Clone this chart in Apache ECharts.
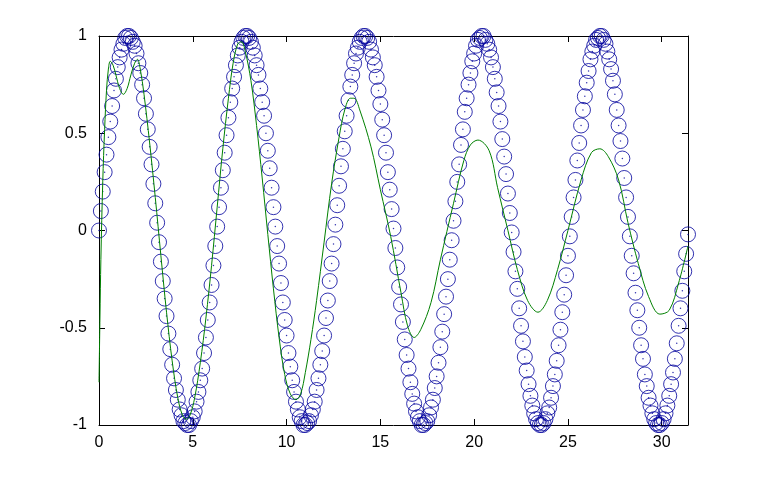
<!DOCTYPE html>
<html>
<head>
<meta charset="utf-8">
<script src="https://cdn.jsdelivr.net/npm/echarts@6/dist/echarts.min.js"></script>
<style>
html,body{margin:0;padding:0;background:#ffffff;}
#chart{width:760px;height:477px;}
</style>
</head>
<body>
<div id="chart"></div>
<script>
// Sample grid of the circle markers (x = start + index * step)
const circleStartX = 0;
const circleStepX = 0.1;
// Circle marker values
const circleY = [
  0,0.10,0.20,0.30,0.39,0.48,0.56,0.64,0.72,0.78,
  0.84,0.89,0.93,0.96,0.99,1.00,1.00,0.99,0.97,0.95,
  0.91,0.86,0.81,0.75,0.68,0.60,0.52,0.43,0.34,0.24,
  0.14,0.04,-0.06,-0.16,-0.26,-0.35,-0.44,-0.53,-0.61,-0.69,
  -0.76,-0.82,-0.87,-0.92,-0.95,-0.98,-0.99,-1.00,-1.00,-0.98,
  -0.96,-0.93,-0.88,-0.83,-0.77,-0.71,-0.63,-0.55,-0.46,-0.37,
  -0.28,-0.18,-0.08,
  0.02,0.12,0.22,0.31,0.40,0.49,0.58,0.66,0.73,0.79,
  0.85,0.90,0.94,0.97,0.99,1.00,1.00,0.99,0.97,0.94,
  0.90,0.85,0.80,0.73,0.66,0.59,0.50,0.41,0.32,0.22,
  0.12,0.02,-0.08,-0.17,-0.27,-0.37,-0.46,-0.54,-0.63,-0.70,
  -0.77,-0.83,-0.88,-0.92,-0.96,-0.98,-1.00,-1.00,-0.99,-0.98,
  -0.95,-0.92,-0.88,-0.82,-0.76,-0.69,-0.62,-0.54,-0.45,-0.36,
  -0.26,-0.17,-0.07,
  0.03,0.13,0.23,0.33,0.42,0.51,0.59,0.67,0.74,0.80,
  0.86,0.91,0.94,0.97,0.99,1.00,1.00,0.99,0.97,0.93,
  0.89,0.85,0.79,0.72,0.65,0.57,0.49,0.40,0.30,0.21,
  0.11,0.01,-0.09,-0.19,-0.29,-0.38,-0.47,-0.56,-0.64,-0.71,
  -0.78,-0.84,-0.89,-0.93,-0.96,-0.98,-1.00,-1.00,-0.99,-0.98,
  -0.95,-0.91,-0.87,-0.81,-0.75,-0.68,-0.60,-0.52,-0.43,-0.34,
  -0.25,-0.15,-0.05,
  0.05,0.15,0.25,0.34,0.44,0.52,0.61,0.68,0.75,0.81,
  0.87,0.91,0.95,0.98,0.99,1.00,1.00,0.98,0.96,0.93,
  0.89,0.84,0.78,0.71,0.64,0.56,0.47,0.38,0.29,0.19,
  0.09,-0.01,-0.11,-0.21,-0.30,-0.40,-0.49,-0.57,-0.65,-0.72,
  -0.79,-0.85,-0.90,-0.94,-0.97,-0.99,-1.00,-1.00,-0.99,-0.97,
  -0.94,-0.91,-0.86,-0.80,-0.74,-0.67,-0.59,-0.51,-0.42,-0.33,
  -0.23,-0.13,-0.03,
  0.07,0.17,0.26,0.36,0.45,0.54,0.62,0.69,0.76,0.82,
  0.88,0.92,0.95,0.98,0.99,1.00,1.00,0.98,0.96,0.92,
  0.88,0.83,0.77,0.70,0.62,0.54,0.46,0.37,0.27,0.17,
  0.07,-0.03,-0.13,-0.22,-0.32,-0.41,-0.50,-0.59,-0.66,-0.74,
  -0.80,-0.86,-0.90,-0.94,-0.97,-0.99,-1.00,-1.00,-0.99,-0.97,
  -0.94,-0.90,-0.85,-0.79,-0.73,-0.66,-0.58,-0.49,-0.40,-0.31,
  -0.21,-0.12,-0.02
];
// Green response curve
const greenX = [0,0.05,0.1,0.2,0.3,0.4,0.5,0.6,0.75,0.9,1.1,1.3,1.5,1.7,1.9,2.05,2.2,2.4,2.7,3.0,
  3.3,3.6,3.9,4.2,4.45,4.65,4.85,5.1,5.4,5.7,6.0,6.3,6.6,6.9,7.15,7.4,7.6,7.8,8.1,8.4,
  8.7,9.0,9.3,9.6,9.9,10.2,10.5,10.75,11.0,11.3,11.6,12.0,12.4,12.8,13.1,13.4,13.6,13.9,14.5,15.0,
  15.55,16.1,16.45,16.8,17.15,17.7,18.2,18.9,19.45,19.8,20.2,20.8,21.25,21.8,22.3,22.85,23.4,23.9,24.45,25.0,
  25.7,26.25,26.7,27.15,27.7,28.2,28.75,29.3,29.9,30.4,30.9,31.4];
const greenY = [-0.78,-0.45,-0.15,0.25,0.52,0.72,0.83,0.87,0.85,0.80,0.73,0.70,0.73,0.80,0.86,0.88,0.83,0.70,0.45,0.17,
  -0.13,-0.42,-0.67,-0.86,-0.95,-0.97,-0.95,-0.86,-0.68,-0.45,-0.18,0.12,0.42,0.68,0.86,0.96,0.97,0.92,0.77,0.54,
  0.27,-0.02,-0.30,-0.55,-0.74,-0.84,-0.87,-0.84,-0.73,-0.56,-0.36,-0.06,0.24,0.48,0.62,0.68,0.68,0.62,0.43,0.21,
  -0.03,-0.32,-0.49,-0.55,-0.51,-0.37,-0.15,0.14,0.36,0.44,0.465,0.41,0.22,0.0,-0.20,-0.36,-0.42,-0.36,-0.20,0.0,
  0.26,0.40,0.42,0.38,0.26,0.04,-0.17,-0.34,-0.43,-0.41,-0.27,-0.08];
const xTicks = [0,5,10,15,20,25,30];
const yTicks = [-1,-0.5,0,0.5,1];
const xMin = 0, xMax = 31.4, yMin = -1, yMax = 1;

const circleData = circleY.map((y, i) => [circleStartX + i * circleStepX, y]);
const greenData = greenX.map((x, i) => [x, greenY[i]]);

const font = {fontFamily: 'Liberation Sans, Arial, sans-serif', fontSize: 16, color: '#000000'};
const axisLineStyle = {show: true, onZero: false, lineStyle: {color: '#000000', width: 1}};

const chart = echarts.init(document.getElementById('chart'), null, {renderer: 'canvas'});
chart.setOption({
  animation: false,
  backgroundColor: '#ffffff',
  grid: {left: 99, right: 72, top: 36, bottom: 52, containLabel: false},
  xAxis: [
    {type: 'value', position: 'bottom', min: xMin, max: xMax, interval: 5,
     axisLine: axisLineStyle,
     axisTick: {show: true, inside: true, length: 6, customValues: xTicks, lineStyle: {color: '#000'}},
     axisLabel: Object.assign({show: true, margin: 10, customValues: xTicks}, font),
     splitLine: {show: false}},
    {type: 'value', position: 'top', min: xMin, max: xMax, interval: 5,
     axisLine: axisLineStyle,
     axisTick: {show: true, inside: true, length: 6, customValues: xTicks, lineStyle: {color: '#000'}},
     axisLabel: {show: false},
     splitLine: {show: false}}
  ],
  yAxis: [
    {type: 'value', position: 'left', min: yMin, max: yMax, interval: 0.5,
     axisLine: axisLineStyle,
     axisTick: {show: true, inside: true, length: 6, customValues: yTicks, lineStyle: {color: '#000'}},
     axisLabel: Object.assign({show: true, margin: 12, customValues: yTicks}, font),
     splitLine: {show: false}},
    {type: 'value', position: 'right', min: yMin, max: yMax, interval: 0.5,
     axisLine: axisLineStyle,
     axisTick: {show: true, inside: true, length: 6, customValues: yTicks, lineStyle: {color: '#000'}},
     axisLabel: {show: false},
     splitLine: {show: false}}
  ],
  series: [
    {type: 'scatter', name: 'circles', xAxisIndex: 0, yAxisIndex: 0, data: circleData,
     symbol: 'circle', symbolSize: 15, clip: false,
     itemStyle: {color: 'rgba(0,0,0,0)', borderColor: '#00009c', borderWidth: 1},
     emphasis: {disabled: true}, z: 2},
    {type: 'scatter', name: 'centers', xAxisIndex: 0, yAxisIndex: 0, data: circleData,
     symbol: 'circle', symbolSize: 1.5, clip: false,
     itemStyle: {color: '#00009c'}, emphasis: {disabled: true}, z: 2},
    {type: 'line', name: 'response', xAxisIndex: 0, yAxisIndex: 0, data: greenData,
     showSymbol: false, smooth: 0.35, clip: true,
     lineStyle: {color: '#008000', width: 1}, emphasis: {disabled: true}, z: 3}
  ]
});
</script>
</body>
</html>
